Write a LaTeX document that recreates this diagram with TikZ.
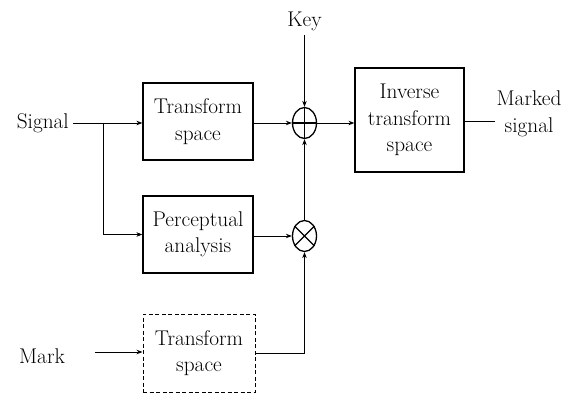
\documentclass[tikz,border=0pt]{standalone}
\usetikzlibrary{arrows.meta,shapes.geometric}
\begin{document}
\begin{tikzpicture}[x=1pt,y=-1pt,
  lbl/.style={inner sep=0pt,font=\fontsize{21.3}{26.5}\selectfont,align=center},
  blk/.style={draw,line width=1.2pt,minimum width=110pt,minimum height=77pt,inner sep=0pt,font=\fontsize{21.3}{26.5}\selectfont,align=center},
  dblk/.style={blk,dashed,line width=1pt,dash pattern=on 4pt off 2.5pt},
  junc/.style={draw,ellipse,line width=1.3pt,minimum width=24pt,minimum height=31pt,inner sep=0pt},
  conn/.style={line width=0.9pt},
  arr/.style={conn,-{Stealth[length=6pt,width=4.5pt]}}]
\useasboundingbox (0,0) rectangle (564,395);
% nodes
\node[lbl,anchor=east] (signal) at (69,123) {Signal};
\node[blk] (ts) at (198,121.5) {Transform\\space};
\node[blk] (pa) at (198,234.5) {Perceptual\\analysis};
\node[dblk,minimum width=112pt,minimum height=78pt] (ts2) at (199,353) {Transform\\space};
\node[lbl] (mark) at (42,356) {Mark};
\node[junc] (plus) at (304.5,123) {};
\node[junc] (times) at (304.5,236) {};
\node[lbl] (key) at (304.5,21) {Key};
\node[blk,minimum width=109pt,minimum height=104pt] (inv) at (409.5,120) {Inverse\\transform\\space};
\node[lbl] (marked) at (529,114) {Marked\\signal};
\coordinate (br) at (103,123);
\coordinate (keyend) at (304.5,35);
% junction symbols
\draw[line width=1.3pt] (plus.north) -- (plus.south) (plus.west) -- (plus.east);
\draw[line width=1.3pt] (times.45) -- (times.225) (times.135) -- (times.315);
% connectors
\draw[conn] (signal.east) ++(4,0) -- (br);
\draw[arr] (br) -- (ts.west |- br);
\draw[arr] (br) |- (pa.west);
\draw[arr] (ts.east |- plus.west) -- (plus.west);
\draw[arr] (keyend) -- (plus.north);
\draw[arr] (times.north) -- (plus.south);
\draw[arr] (pa.east |- times.west) -- (times.west);
\draw[arr] (ts2.east) -| (times.south);
\draw[arr] (mark.east) ++(30,-4) coordinate (mk) -- (ts2.west |- mk);
\draw[arr] (plus.east) -- (inv.west |- plus.east);
\draw[conn] (inv.east |- marked.west) ++(0,7) coordinate (mo) -- ([xshift=-1pt]marked.west |- mo);
\end{tikzpicture}
\end{document}
